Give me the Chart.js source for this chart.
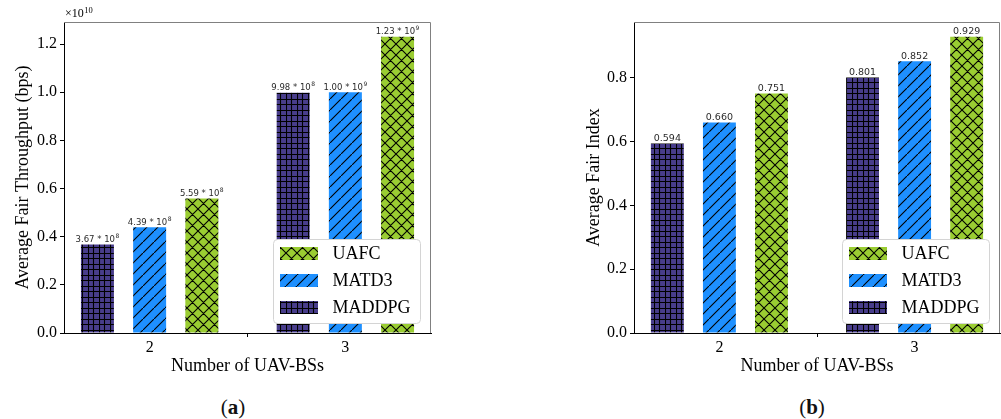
<!DOCTYPE html>
<html>
<head>
<meta charset="utf-8">
<script src="https://cdn.jsdelivr.net/npm/chart.js@4.4.0/dist/chart.umd.min.js"></script>
<style>
    body { margin: 0; background: #fff; width: 1001px; height: 419px; overflow: hidden; position: relative; }
    .panel { position: absolute; top: 0; height: 380px; }
    #panelA { left: 0; width: 500px; }
    #panelB { left: 500px; width: 501px; }
    .caption { position: absolute; top: 394px; font-family: "Liberation Serif", serif; font-size: 21px; color: #111; transform: translateX(-50%); line-height: 26px; }
</style>
</head>
<body>
<div class="panel" id="panelA"><canvas id="throughputChart"></canvas></div>
<div class="panel" id="panelB"><canvas id="fairChart"></canvas></div>
<div class="caption" style="left:233px">(<b>a</b>)</div>
<div class="caption" style="left:812px">(<b>b</b>)</div>
<script>
// number of UAV base stations (x categories)
const uavCounts = [2, 3];
const algorithms = ['MADDPG', 'MATD3', 'UAFC'];

// average fair throughput, bps
const throughputMADDPG = [3.67e9, 9.98e9];
const throughputMATD3 = [4.39e9, 1.00e10];
const throughputUAFC = [5.59e9, 1.23e10];
// text written above the bars: [mantissa, exponent]
const throughputNotesMADDPG = [['3.67', '8'], ['9.98', '8']];
const throughputNotesMATD3 = [['4.39', '8'], ['1.00', '9']];
const throughputNotesUAFC = [['5.59', '8'], ['1.23', '9']];
const throughputTicks = [0, 0.2e10, 0.4e10, 0.6e10, 0.8e10, 1.0e10, 1.2e10];

// average fair index
const fairMADDPG = [0.594, 0.801];
const fairMATD3 = [0.660, 0.852];
const fairUAFC = [0.751, 0.929];
const fairTicks = [0, 0.2, 0.4, 0.6, 0.8];

const SERIF = '"Liberation Serif", "Times New Roman", serif';

// hatch patterns like matplotlib's '+', '/' and 'x'
function makeHatch(fill, kind) {
    const size = 11;
    const c = document.createElement('canvas');
    c.width = size; c.height = size;
    const g = c.getContext('2d');
    g.fillStyle = fill;
    g.fillRect(0, 0, size, size);
    g.strokeStyle = '#000';
    g.lineWidth = 1.1;
    g.beginPath();
    if (kind === '+') {
        [0.5, 5.5].forEach(p => {
            g.moveTo(p, 0); g.lineTo(p, size);
            g.moveTo(0, p); g.lineTo(size, p);
        });
    }
    if (kind === '/' || kind === 'x') {
        g.moveTo(-1, size + 1); g.lineTo(size + 1, -1);
        g.moveTo(-2, 1); g.lineTo(1, -2);
        g.moveTo(size - 1, size + 2); g.lineTo(size + 2, size - 1);
    }
    if (kind === 'x') {
        g.moveTo(-1, -1); g.lineTo(size + 1, size + 1);
        g.moveTo(size - 1, -2); g.lineTo(size + 2, 1);
        g.moveTo(-2, size - 1); g.lineTo(1, size + 2);
    }
    g.stroke();
    return g.createPattern(c, 'repeat');
}

const fills = {
    MADDPG: makeHatch('#483d8b', '+'),
    MATD3: makeHatch('#1e90ff', '/'),
    UAFC: makeHatch('#9acd32', 'x')
};

function toPoints(values) {
    return values.map((v, i) => ({ x: uavCounts[i], y: v }));
}

function buildDatasets(seriesList, notesList) {
    return algorithms.map((name, k) => ({
        label: name,
        data: toPoints(seriesList[k]),
        notes: notesList[k],
        backgroundColor: fills[name],
        borderWidth: 0,
        categoryPercentage: 0.8,
        barPercentage: 0.632
    }));
}

// numbers above bars
const barNotes = {
    id: 'barNotes',
    afterDatasetsDraw(chart) {
        const ctx = chart.ctx;
        ctx.save();
        ctx.fillStyle = '#2a2a2a';
        ctx.textBaseline = 'alphabetic';
        chart.data.datasets.forEach((ds, di) => {
            chart.getDatasetMeta(di).data.forEach((bar, i) => {
                const note = ds.notes[i];
                const y = bar.y - 2.5;
                if (Array.isArray(note)) {
                    const main = note[0] + ' * 10';
                    ctx.font = '8.5px "DejaVu Sans"';
                    const w1 = ctx.measureText(main).width;
                    ctx.font = '6px "DejaVu Sans"';
                    const w2 = ctx.measureText(note[1]).width;
                    const x0 = bar.x - (w1 + w2 + 0.5) / 2;
                    ctx.textAlign = 'left';
                    ctx.font = '8.5px "DejaVu Sans"';
                    ctx.fillText(main, x0, y);
                    ctx.font = '6px "DejaVu Sans"';
                    ctx.fillText(note[1], x0 + w1 + 0.5, y - 4);
                } else {
                    ctx.textAlign = 'center';
                    ctx.font = '9.5px "DejaVu Sans"';
                    ctx.fillText(note, bar.x, y);
                }
            });
        });
        ctx.restore();
    }
};

// gray top/right frame, legend box, offset text
const frameAndLegend = {
    id: 'frameAndLegend',
    afterDraw(chart) {
        const ctx = chart.ctx;
        const a = chart.chartArea;
        ctx.save();
        ctx.strokeStyle = '#808080';
        ctx.lineWidth = 1;
        ctx.beginPath();
        ctx.moveTo(Math.round(a.left), Math.round(a.top) + 0.5);
        ctx.lineTo(Math.round(a.right) - 0.5, Math.round(a.top) + 0.5);
        ctx.lineTo(Math.round(a.right) - 0.5, Math.round(a.bottom));
        ctx.stroke();

        // legend
        const bw = 147, bh = 84;
        const bx = Math.round(a.right) - 11 - bw + 0.5;
        const by = Math.round(a.bottom) - 10 - bh + 0.5;
        ctx.beginPath();
        ctx.roundRect(bx, by, bw, bh, 4);
        ctx.fillStyle = '#fff';
        ctx.fill();
        ctx.strokeStyle = '#d4d4d4';
        ctx.stroke();
        const order = chart.data.datasets.slice().reverse();
        order.forEach((ds, i) => {
            const cy = by + 14 + i * 27;
            ctx.fillStyle = ds.backgroundColor;
            ctx.fillRect(Math.round(bx + 6), Math.round(cy - 6.5), 38, 13);
            ctx.fillStyle = '#000';
            ctx.font = '18px ' + SERIF;
            ctx.textAlign = 'left';
            ctx.textBaseline = 'middle';
            ctx.fillText(ds.label, bx + 59, cy + 1);
        });

        const off = chart.options.plugins.frameAndLegend.offsetText;
        if (off) {
            ctx.fillStyle = '#000';
            ctx.textBaseline = 'alphabetic';
            ctx.textAlign = 'left';
            ctx.font = '12px ' + SERIF;
            ctx.fillText(off[0], a.left + 1, 17);
            const w = ctx.measureText(off[0]).width;
            ctx.font = '8.5px ' + SERIF;
            ctx.fillText(off[1], a.left + 1 + w + 0.5, 13);
        }
        ctx.restore();
    }
};

function makeChart(canvasId, datasets, opts) {
    const ticksFor = opts.yTicks;
    return new Chart(document.getElementById(canvasId).getContext('2d'), {
        type: 'bar',
        data: { datasets: datasets },
        options: {
            responsive: true,
            maintainAspectRatio: false,
            animation: false,
            layout: { padding: { left: opts.padLeft, right: opts.padRight, top: 22, bottom: 0 } },
            plugins: {
                legend: { display: false },
                tooltip: { enabled: false },
                frameAndLegend: { offsetText: opts.offsetText }
            },
            scales: {
                x: {
                    type: 'linear',
                    offset: false,
                    min: uavCounts[0] - 0.4375,
                    max: uavCounts[uavCounts.length - 1] + 0.4375,
                    afterBuildTicks: s => { s.ticks = uavCounts.map(v => ({ value: v })); },
                    afterFit: s => { s.height = 47; },
                    grid: { drawOnChartArea: false, drawTicks: true, tickLength: 4, color: '#000' },
                    border: { color: '#000', width: 1 },
                    ticks: {
                        color: '#000', padding: 1,
                        font: { family: SERIF, size: 16 },
                        callback: v => String(v)
                    },
                    title: {
                        display: true, text: 'Number of UAV-BSs', color: '#000',
                        font: { family: SERIF, size: 18 },
                        padding: { top: 0, bottom: 3 }
                    }
                },
                y: {
                    min: 0,
                    max: opts.yMax,
                    afterBuildTicks: s => { s.ticks = ticksFor.map(v => ({ value: v })); },
                    afterFit: s => { s.width = opts.yWidth; },
                    grid: { drawOnChartArea: false, drawTicks: true, tickLength: 4, color: '#000' },
                    border: { color: '#000', width: 1 },
                    ticks: {
                        color: '#000', padding: 3,
                        font: { family: SERIF, size: 16 },
                        callback: opts.tickText
                    },
                    title: {
                        display: true, text: opts.yTitle, color: '#000',
                        font: { family: SERIF, size: 18 },
                        padding: { top: 12, bottom: 0 }
                    }
                }
            }
        },
        plugins: [barNotes, frameAndLegend]
    });
}

const throughputAll = throughputMADDPG.concat(throughputMATD3, throughputUAFC);
makeChart('throughputChart',
    buildDatasets([throughputMADDPG, throughputMATD3, throughputUAFC],
                  [throughputNotesMADDPG, throughputNotesMATD3, throughputNotesUAFC]),
    {
        padLeft: 0, padRight: 69, yWidth: 64,
        yMax: Math.max(...throughputAll) * 1.05,
        yTicks: throughputTicks,
        tickText: v => (v / 1e10).toFixed(1),
        yTitle: 'Average Fair Throughput (bps)',
        offsetText: ['\u00d710', '10']
    });

const fairAll = fairMADDPG.concat(fairMATD3, fairUAFC);
makeChart('fairChart',
    buildDatasets([fairMADDPG, fairMATD3, fairUAFC],
                  [fairMADDPG.map(v => v.toFixed(3)), fairMATD3.map(v => v.toFixed(3)), fairUAFC.map(v => v.toFixed(3))]),
    {
        padLeft: 71, padRight: 1, yWidth: 63,
        yMax: Math.max(...fairAll) * 1.05,
        yTicks: fairTicks,
        tickText: v => v.toFixed(1),
        yTitle: 'Average Fair Index',
        offsetText: null
    });
</script>
</body>
</html>
